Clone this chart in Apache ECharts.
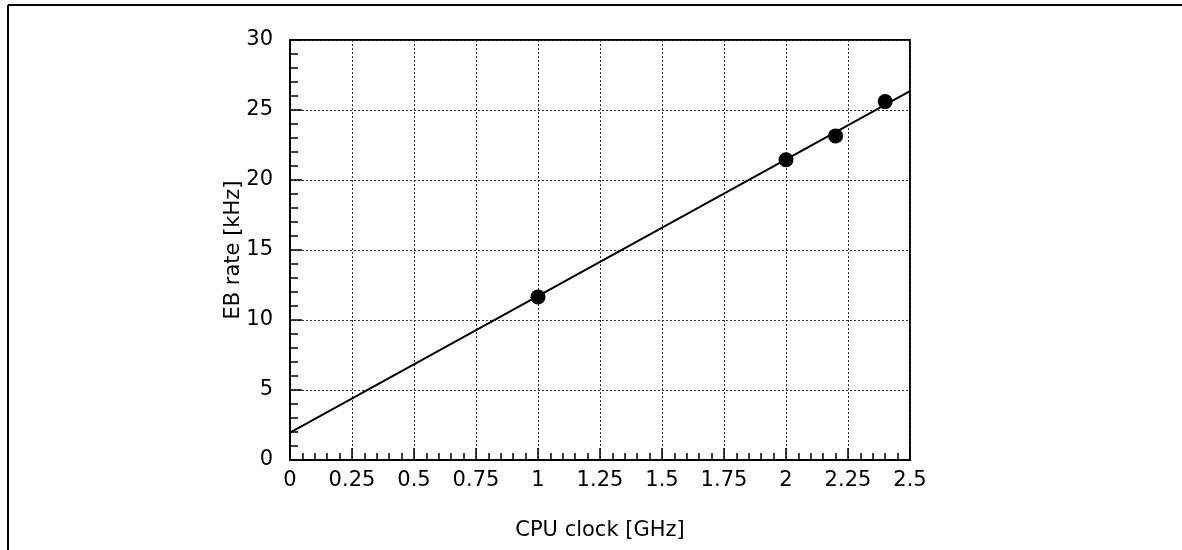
<!DOCTYPE html>
<html>
<head>
<meta charset="utf-8">
<script src="https://cdn.jsdelivr.net/npm/echarts@6/dist/echarts.min.js"></script>
<style>html,body{margin:0;padding:0;background:#fff;}#c{width:1182px;height:550px;}</style>
</head>
<body>
<div id="c"></div>
<script>
// Data
const cpuClock = [1.0, 2.0, 2.2, 2.4];
const ebRate = [11.65, 21.45, 23.15, 25.6];
const fitLineX = [0, 2.5];
const fitLineY = [1.95, 26.35];
const xTitle = 'CPU clock [GHz]';
const yTitle = 'EB rate [kHz]';

const font = 'DejaVu Sans';
const chart = echarts.init(document.getElementById('c'), null, {renderer: 'canvas'});
chart.setOption({
  animation: false,
  backgroundColor: '#fff',
  graphic: [
    {type: 'line', shape: {x1: 8, y1: 5, x2: 1182, y2: 5}, style: {stroke: '#000', lineWidth: 2}},
    {type: 'line', shape: {x1: 8, y1: 5, x2: 8, y2: 550}, style: {stroke: '#000', lineWidth: 2}}
  ],
  grid: {left: 290, top: 40, width: 620, height: 420, show: true, borderColor: '#000', borderWidth: 2, backgroundColor: 'transparent'},
  xAxis: {
    type: 'value', min: 0, max: 2.5, interval: 0.25,
    name: xTitle, nameLocation: 'middle', nameGap: 60, nameMoveOverlap: false,
    nameTextStyle: {fontFamily: font, fontSize: 21, color: '#000'},
    axisLine: {show: true, lineStyle: {color: '#000', width: 2}},
    axisTick: {show: true, inside: true, length: 12, lineStyle: {color: '#000', width: 1.5}},
    minorTick: {show: true, splitNumber: 5, length: 7, lineStyle: {color: '#000', width: 1.5}},
    splitLine: {show: true, lineStyle: {color: '#333', width: 1, type: [2, 2]}},
    axisLabel: {fontFamily: font, fontSize: 21, color: '#000', margin: 10}
  },
  yAxis: {
    type: 'value', min: 0, max: 30, interval: 5,
    name: yTitle, nameLocation: 'middle', nameGap: 46, nameRotate: 90, nameMoveOverlap: false,
    nameTextStyle: {fontFamily: font, fontSize: 21, color: '#000'},
    axisLine: {show: true, lineStyle: {color: '#000', width: 2}},
    axisTick: {show: true, inside: true, length: 12, lineStyle: {color: '#000', width: 1.5}},
    minorTick: {show: true, splitNumber: 5, length: 8, lineStyle: {color: '#000', width: 1.5}},
    splitLine: {show: true, lineStyle: {color: '#333', width: 1, type: [2, 2]}},
    axisLabel: {fontFamily: font, fontSize: 21, color: '#000', margin: 17}
  },
  series: [
    {
      type: 'line', data: fitLineX.map((x, i) => [x, fitLineY[i]]),
      showSymbol: false, symbol: 'none', lineStyle: {color: '#000', width: 2}, z: 3
    },
    {
      type: 'scatter', data: cpuClock.map((x, i) => [x, ebRate[i]]),
      symbol: 'circle', symbolSize: 15, itemStyle: {color: '#000', opacity: 1}, z: 4
    }
  ]
});
</script>
</body>
</html>
